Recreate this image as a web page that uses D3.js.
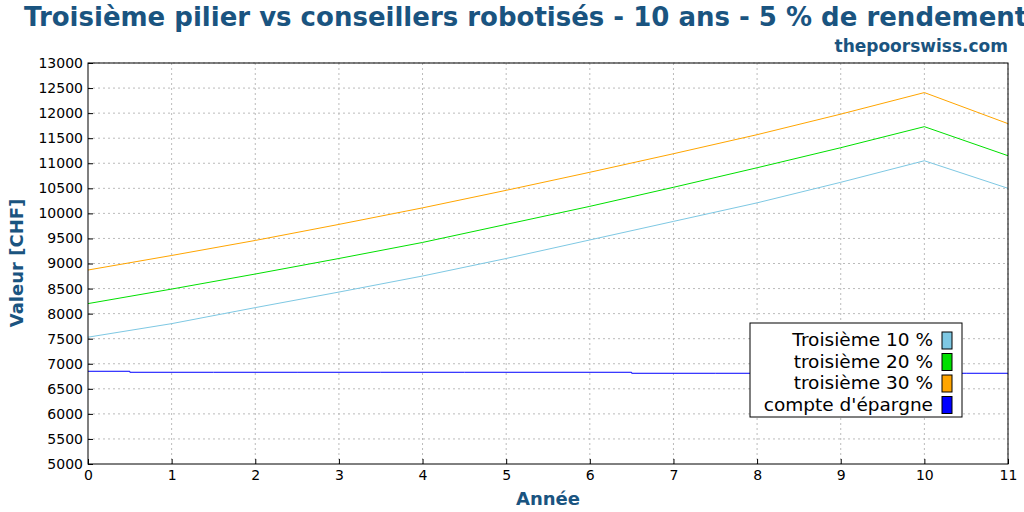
<!DOCTYPE html><html><head><meta charset="utf-8"><script src="https://cdn.jsdelivr.net/npm/d3@7"></script>
<style>body{margin:0;background:#fff}</style></head><body><svg id="c" width="1024" height="512"></svg>
<script>
const years=[0,1,2,3,4,5,6,7,8,9,10,11];
const s10=[7530,7800,8120,8430,8750,9100,9470,9840,10210,10620,11050,10500];
const s20=[8200,8490,8790,9100,9420,9780,10140,10520,10910,11310,11730,11150];
const s30=[8870,9160,9460,9780,10110,10460,10820,11190,11570,11980,12410,11790];
const sav=[6850,6830,6830,6830,6830,6830,6830,6810,6810,6810,6810,6810];
const yTicks=d3.range(5000,13001,500);
const series=[{name:"Troisième 10 %",v:s10,c:"#7ec8e3",curve:d3.curveLinear},{name:"troisième 20 %",v:s20,c:"#00e000",curve:d3.curveLinear},{name:"troisième 30 %",v:s30,c:"#ffa500",curve:d3.curveLinear},{name:"compte d'épargne",v:sav,c:"#0000ff",curve:d3.curveStep}];
const svg=d3.select("#c"),F="DejaVu Sans, sans-serif",blue="#1a5480";
const x=d3.scaleLinear().domain([0,11]).range([88,1008]);
const y=d3.scaleLinear().domain([5000,13000]).range([464,63]);
svg.append("g").selectAll("line").data(yTicks.slice(1)).join("line").attr("x1",88).attr("x2",1008).attr("y1",d=>y(d)).attr("y2",d=>y(d)).attr("stroke","#bbb").attr("stroke-dasharray","2,3");
svg.append("g").selectAll("line").data(years.slice(1)).join("line").attr("y1",63).attr("y2",464).attr("x1",d=>x(d)).attr("x2",d=>x(d)).attr("stroke","#bbb").attr("stroke-dasharray","2,3");
series.forEach(s=>svg.append("path").attr("d",d3.line().x((d,i)=>x(years[i])).y(d=>y(d)).curve(s.curve)(s.v)).attr("fill","none").attr("stroke",s.c).attr("stroke-width",1));
const ax=svg.append("g").attr("transform","translate(0,464)").call(d3.axisBottom(x).tickValues(years).tickSize(-5).tickPadding(6).tickFormat(d3.format("d")));
const ay=svg.append("g").attr("transform","translate(88,0)").call(d3.axisLeft(y).tickValues(yTicks).tickSize(-5).tickPadding(5).tickFormat(d3.format("d")));
[ax,ay].forEach(a=>{a.selectAll("text").attr("font-family",F).attr("font-size",14).attr("fill","#000");a.select(".domain").remove();});
svg.append("rect").attr("x",88).attr("y",63).attr("width",920).attr("height",401).attr("fill","none").attr("stroke","#000");
svg.append("text").attr("x",580).attr("y",26).attr("text-anchor","middle").attr("font-family",F).attr("font-weight","bold").attr("font-size",26).attr("fill",blue).text("Troisième pilier vs conseillers robotisés - 10 ans - 5 % de rendement annuel");
svg.append("text").attr("x",1008).attr("y",52).attr("text-anchor","end").attr("font-family",F).attr("font-weight","bold").attr("font-size",17).attr("fill",blue).text("thepoorswiss.com");
svg.append("text").attr("x",548).attr("y",505).attr("text-anchor","middle").attr("font-family",F).attr("font-weight","bold").attr("font-size",18).attr("fill",blue).text("Année");
svg.append("text").attr("transform","translate(23,263) rotate(-90)").attr("text-anchor","middle").attr("font-family",F).attr("font-weight","bold").attr("font-size",18).attr("fill",blue).text("Valeur [CHF]");
const lg=svg.append("g");
lg.append("rect").attr("x",750).attr("y",323).attr("width",212).attr("height",94).attr("fill","#fff").attr("stroke","#000");
series.forEach((s,i)=>{const yy=340+i*21.5;
lg.append("text").attr("x",933).attr("y",yy+6).attr("text-anchor","end").attr("font-family",F).attr("font-size",18.5).text(s.name);
lg.append("rect").attr("x",942).attr("y",yy-8).attr("width",10).attr("height",17).attr("fill",s.c).attr("stroke","#000");});
</script></body></html>
